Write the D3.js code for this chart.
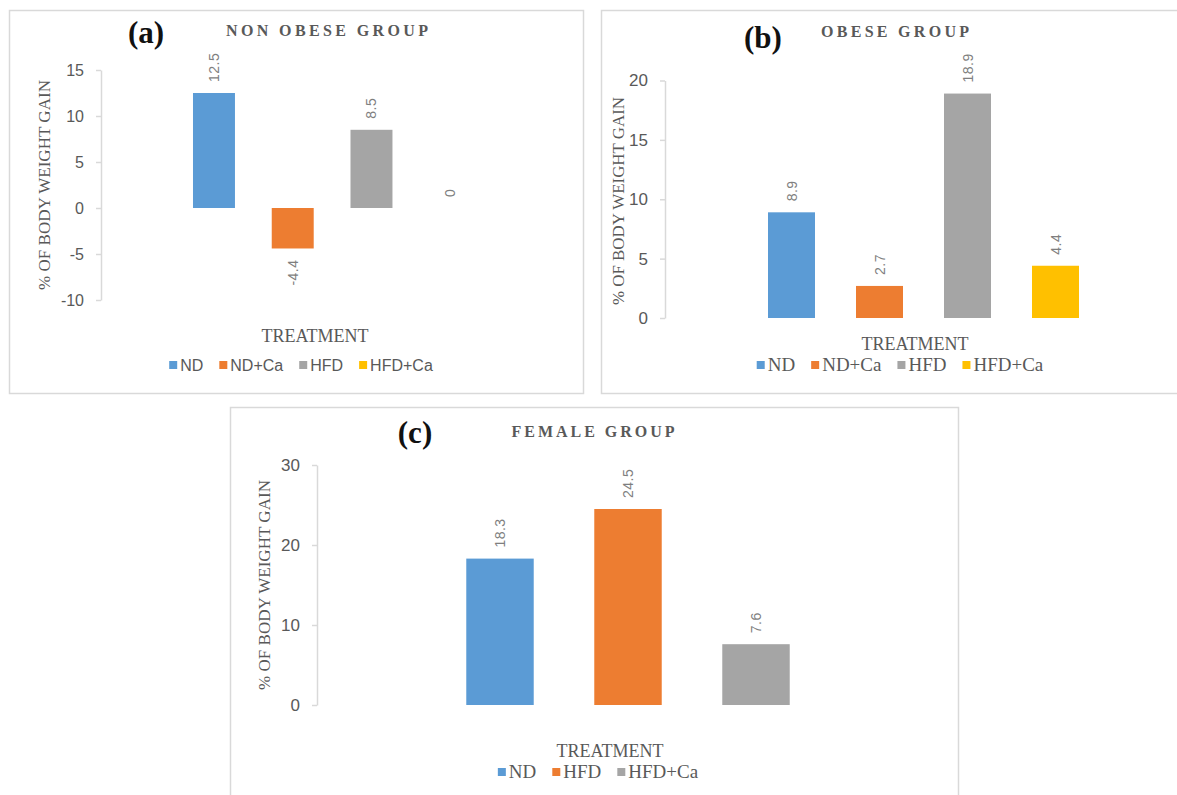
<!DOCTYPE html>
<html>
<head>
<meta charset="utf-8">
<script src="https://cdn.jsdelivr.net/npm/d3@7"></script>
<style>
  html, body { margin: 0; padding: 0; background: #fff; }
  svg { display: block; }
</style>
</head>
<body>
<svg id="chart" width="1177" height="795"></svg>
<script>
// ---------- DATA ----------
const categoriesA = ["ND", "ND+Ca", "HFD", "HFD+Ca"];
const valuesA = [12.5, -4.4, 8.5, 0];
const ticksA = [-10, -5, 0, 5, 10, 15];

const categoriesB = ["ND", "ND+Ca", "HFD", "HFD+Ca"];
const valuesB = [8.9, 2.7, 18.9, 4.4];
const ticksB = [0, 5, 10, 15, 20];

const categoriesC = ["ND", "HFD", "HFD+Ca"];
const valuesC = [18.3, 24.5, 7.6];
const ticksC = [0, 10, 20, 30];

const titleA = "NON OBESE GROUP", titleB = "OBESE GROUP", titleC = "FEMALE GROUP";
const yTitle = "% OF BODY WEIGHT GAIN";
const xTitle = "TREATMENT";

// colors per category
const colorsABCat = ["#5B9BD5", "#ED7D31", "#A5A5A5", "#FFC000"];
const colorsCCat = ["#5B9BD5", "#ED7D31", "#A5A5A5"];

// ---------- LAYOUT ----------
const svg = d3.select("#chart");
const SERIF = "'Liberation Serif', 'DejaVu Serif', serif";
const SANS = "'Liberation Sans', Arial, sans-serif";
const GRAY = "#595959";

const panels = [
  {
    letter: "(a)", title: titleA, cats: categoriesA, vals: valuesA, ticks: ticksA, colors: colorsABCat,
    border: [9, 10, 574, 383],
    yRange: [300, 70], xRange: [174.6, 489.6], pInner: 0.467, axisX: 101,
    letterPos: [146, 43], titlePos: [327, 36], titleLen: 202,
    yTitlePos: [50, 185], yTitleLen: 210,
    xTitlePos: [315, 342], legendCenter: 301, legendY: 365, legendFont: SANS, legendSize: 16,
    tickFont: 16, labelFont: 14
  },
  {
    letter: "(b)", title: titleB, cats: categoriesB, vals: valuesB, ticks: ticksB, colors: colorsABCat,
    border: [601, 10, 590, 383],
    yRange: [318, 80.5], xRange: [747.5, 1099.5], pInner: 0.466, axisX: 665,
    letterPos: [763, 48], titlePos: [895, 37], titleLen: 148,
    yTitlePos: [624, 201], yTitleLen: 208,
    xTitlePos: [915, 350], legendCenter: 900, legendY: 365, legendFont: SERIF, legendSize: 19,
    tickFont: 17, labelFont: 14
  },
  {
    letter: "(c)", title: titleC, cats: categoriesC, vals: valuesC, ticks: ticksC, colors: colorsCCat,
    border: [230, 407, 728, 400],
    yRange: [705, 465], xRange: [436, 820], pInner: 0.473, axisX: 317,
    letterPos: [415, 443], titlePos: [593, 437], titleLen: 163,
    yTitlePos: [270, 585], yTitleLen: 210,
    xTitlePos: [610, 757], legendCenter: 598, legendY: 772, legendFont: SERIF, legendSize: 19,
    tickFont: 17, labelFont: 14
  }
];

function drawPanel(p) {
  const g = svg.append("g");
  // border
  g.append("rect")
    .attr("x", p.border[0] + 0.5).attr("y", p.border[1] + 0.5)
    .attr("width", p.border[2]).attr("height", p.border[3])
    .attr("fill", "none").attr("stroke", "#d9d9d9").attr("stroke-width", 1.5);

  const y = d3.scaleLinear()
    .domain([d3.min(p.ticks), d3.max(p.ticks)])
    .range(p.yRange);
  const x = d3.scaleBand()
    .domain(p.cats)
    .range(p.xRange)
    .paddingInner(p.pInner)
    .paddingOuter(p.pInner / 2);

  // axis
  const ax = g.append("g")
    .attr("transform", `translate(${p.axisX},0)`)
    .call(d3.axisLeft(y).tickValues(p.ticks).tickFormat(d => String(d))
      .tickSizeInner(5).tickSizeOuter(0).tickPadding(12));
  ax.select(".domain").attr("stroke", "#d9d9d9").attr("stroke-width", 1.5);
  ax.selectAll(".tick line").attr("stroke", "#d9d9d9").attr("stroke-width", 1.5);
  ax.selectAll(".tick text")
    .attr("fill", GRAY)
    .style("font-family", SANS)
    .style("font-size", p.tickFont + "px");

  // bars
  g.selectAll("rect.bar")
    .data(p.vals)
    .enter().append("rect")
    .attr("class", "bar")
    .attr("x", (d, i) => x(p.cats[i]))
    .attr("width", x.bandwidth())
    .attr("y", d => y(Math.max(0, d)))
    .attr("height", d => Math.abs(y(d) - y(0)))
    .attr("fill", (d, i) => p.colors[i]);

  // data labels (rotated)
  g.selectAll("text.dl")
    .data(p.vals)
    .enter().append("text")
    .attr("class", "dl")
    .attr("transform", (d, i) => {
      const cx = x(p.cats[i]) + x.bandwidth() / 2 + 5;
      const yy = d < 0 ? y(d) + 11 : y(d) - 11;
      return `translate(${cx},${yy}) rotate(-90)`;
    })
    .attr("text-anchor", d => d < 0 ? "end" : "start")
    .attr("fill", "#7f7f7f")
    .style("font-family", SANS)
    .style("font-size", p.labelFont + "px")
    .style("letter-spacing", "0.5px")
    .text(d => String(d));

  // panel letter
  g.append("text")
    .attr("x", p.letterPos[0]).attr("y", p.letterPos[1])
    .attr("text-anchor", "middle")
    .attr("fill", "#111")
    .style("font-family", SERIF).style("font-weight", "bold")
    .style("font-size", "31px")
    .text(p.letter);

  // title
  g.append("text")
    .attr("x", p.titlePos[0] - p.titleLen / 2).attr("y", p.titlePos[1])
    .attr("textLength", p.titleLen).attr("lengthAdjust", "spacing")
    .attr("fill", GRAY)
    .style("font-family", SERIF).style("font-weight", "bold")
    .style("font-size", "16px")
    .text(p.title);

  // y title
  g.append("text")
    .attr("transform", `translate(${p.yTitlePos[0]},${p.yTitlePos[1] + p.yTitleLen / 2}) rotate(-90)`)
    .attr("textLength", p.yTitleLen).attr("lengthAdjust", "spacingAndGlyphs")
    .attr("fill", GRAY)
    .style("font-family", SERIF)
    .style("font-size", "17px")
    .text(yTitle);

  // x title
  g.append("text")
    .attr("x", p.xTitlePos[0]).attr("y", p.xTitlePos[1])
    .attr("text-anchor", "middle")
    .attr("fill", GRAY)
    .style("font-family", SERIF)
    .style("font-size", "18px")
    .text(xTitle);

  // legend
  const lg = g.append("g");
  let cursor = 0;
  p.cats.forEach((c, i) => {
    const item = lg.append("g").attr("transform", `translate(${cursor},0)`);
    item.append("rect")
      .attr("x", 0).attr("y", p.legendY - 4)
      .attr("width", 8).attr("height", 8)
      .attr("fill", p.colors[i]);
    const t = item.append("text")
      .attr("x", 11).attr("y", p.legendY + 6)
      .attr("fill", GRAY)
      .style("font-family", p.legendFont)
      .style("font-size", p.legendSize + "px")
      .text(c);
    const w = t.node().getComputedTextLength();
    cursor += 11 + w + 16;
  });
  const total = cursor - 16;
  lg.attr("transform", `translate(${p.legendCenter - total / 2},0)`);
}

panels.forEach(drawPanel);
</script>
</body>
</html>
